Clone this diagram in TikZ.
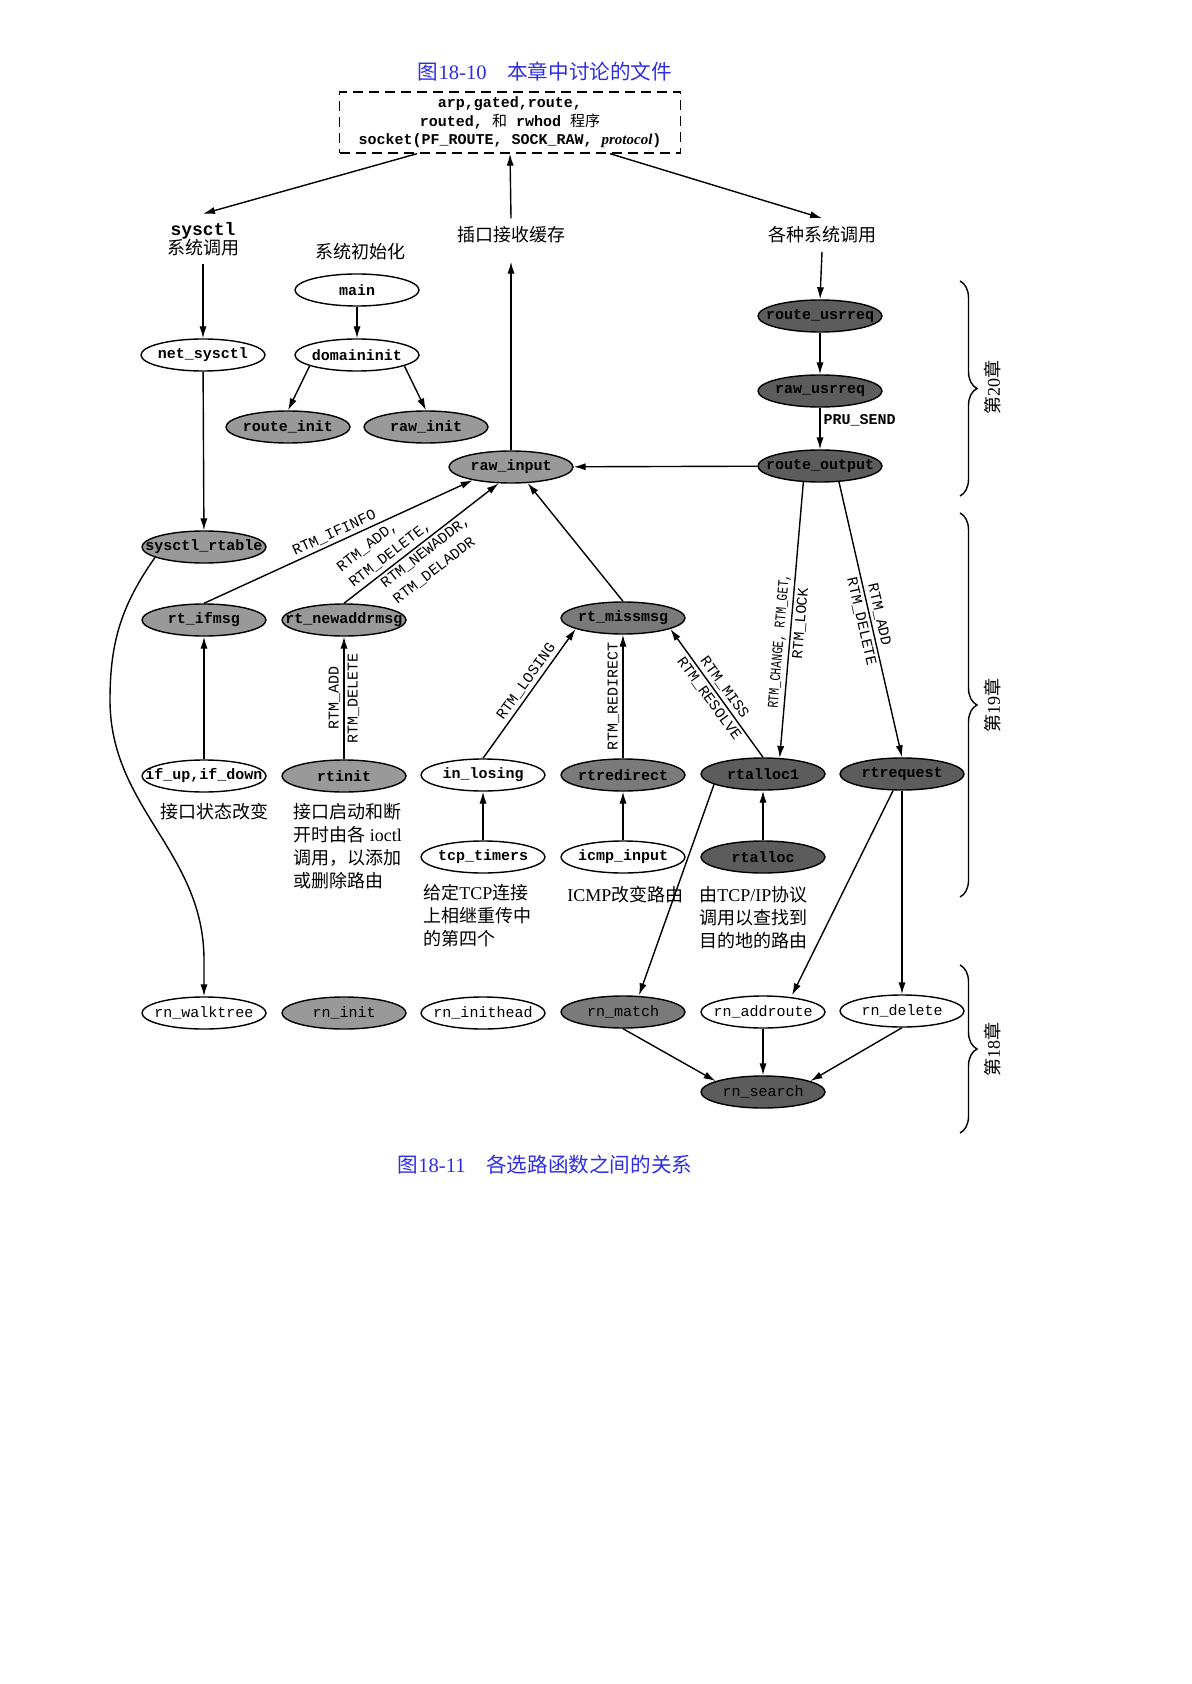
\documentclass[tikz,border=0pt]{standalone}
\usepackage{fontspec}
\setmainfont{Liberation Serif}
\setmonofont{Liberation Mono}
\newfontfamily\zhfont{Noto Sans CJK SC}
\usepackage{tikz}
\usetikzlibrary{shapes, shapes.geometric, arrows.meta, decorations.pathreplacing}
\definecolor{capblue}{RGB}{45,45,225}
\definecolor{lightshade}{gray}{0.6}
\definecolor{midshade}{gray}{0.48}
\definecolor{darkshade}{gray}{0.36}
\tikzstyle{arrow} = [line width=0.7pt,-{Latex[length=6pt,width=3.6pt]}]
\tikzstyle{func} = [ellipse, draw=black, line width=0.7pt, minimum width=62pt, minimum height=16pt, inner sep=0pt, font=\fontsize{7.5}{8}\selectfont\ttfamily\bfseries, execute at begin node={\hbox to 0pt\bgroup\hss}, execute at end node={\hss\egroup}]
\tikzstyle{fnplain} = [func, fill=white]
\tikzstyle{fnlight} = [func, fill=lightshade]
\tikzstyle{fnmid} = [func, fill=midshade]
\tikzstyle{fndark} = [func, fill=darkshade]
\tikzstyle{rnfont} = [font=\fontsize{7.5}{8}\selectfont\ttfamily]
\tikzstyle{progbox} = [rectangle, draw=black, line width=0.7pt, dash pattern=on 5pt off 3pt, minimum width=170.5pt, minimum height=30.5pt, align=center, inner sep=0pt, font=\fontsize{7.5}{9.25}\selectfont\ttfamily\bfseries]
\tikzstyle{lbl} = [inner sep=4pt, font=\fontsize{9}{9.5}\selectfont]
\tikzstyle{desc} = [inner sep=0pt, align=left, anchor=north west, font=\fontsize{9}{11.5}\selectfont]
\tikzstyle{rtm} = [inner sep=1.5pt, font=\fontsize{7.5}{10}\selectfont\ttfamily]
\tikzstyle{figcap} = [text=capblue, font=\fontsize{10.3}{12}\selectfont]
\tikzstyle{chbrace} = [line width=0.7pt, decorate, decoration={brace, amplitude=8.5pt}]

\begin{document}
\begin{tikzpicture}[x=0.5pt, y=0.5pt]
	\useasboundingbox (0,0) rectangle (1191,-1684);
				%captions
				\node(fig10)[figcap] at (545,-72){{\zhfont 图}18-10\hspace{1em}{\zhfont 本章中讨论的文件}};
				\node(fig11)[figcap] at (545,-1165){{\zhfont 图}18-11\hspace{1em}{\zhfont 各选路函数之间的关系}};
				
				\node(prog)[progbox] at (510,-122.5){arp,gated,route,\\routed, {\zhfont\mdseries 和} rwhod {\zhfont\mdseries 程序}\\socket(PF\_ROUTE, SOCK\_RAW, {\rmfamily\bfseries\itshape protocol})};
				
				%text labels
				\node(sysctllbl)[lbl, align=center] at (203,-239){{\ttfamily\bfseries sysctl}\\{\zhfont 系统调用}};
				\node(sysinit)[lbl] at (360,-252){\zhfont 系统初始化};
				\node(sockbuf)[lbl] at (511,-235){\zhfont 插口接收缓存};
				\node(syscalls)[lbl] at (822,-235){\zhfont 各种系统调用};
				
				%chapter 20
				\node(main)[fnplain] at (357,-290){main};
				\node(domaininit)[fnplain] at (357,-355){domaininit};
				\node(net_sysctl)[fnplain] at (203,-355){net\_sysctl};
				\node(route_init)[fnlight] at (288,-427){route\_init};
				\node(raw_init)[fnlight] at (426,-427){raw\_init};
				\node(route_usrreq)[fndark] at (820,-316){route\_usrreq};
				\node(raw_usrreq)[fndark] at (820,-391){raw\_usrreq};
				\node(route_output)[fndark] at (820,-466){route\_output};
				\node(raw_input)[fnlight] at (511,-467){raw\_input};
				
				%chapter 19
				\node(sysctl_rtable)[fnlight] at (204,-547){sysctl\_rtable};
				\node(rt_ifmsg)[fnlight] at (204,-620){rt\_ifmsg};
				\node(rt_newaddrmsg)[fnlight] at (344,-620){rt\_newaddrmsg};
				\node(rt_missmsg)[fnmid] at (623,-618){rt\_missmsg};
				\node(ifupdown)[fnplain] at (204,-776){if\_up,if\_down};
				\node(rtinit)[fnlight] at (344,-776){rtinit};
				\node(in_losing)[fnplain] at (483,-775){in\_losing};
				\node(rtredirect)[fnmid] at (623,-775){rtredirect};
				\node(rtalloc1)[fndark] at (763,-774){rtalloc1};
				\node(rtrequest)[fndark] at (902,-774){rtrequest};
				\node(tcp_timers)[fnplain] at (483,-857){tcp\_timers};
				\node(icmp_input)[fnplain] at (623,-857){icmp\_input};
				\node(rtalloc)[fndark] at (763,-857){rtalloc};
				
				\node(ifdesc)[desc] at (160,-803){\zhfont 接口状态改变};
				\node(rtinitdesc)[desc] at (293,-803){{\zhfont 接口启动和断}\\{\zhfont 开时由各} ioctl\\{\zhfont 调用，以添加}\\{\zhfont 或删除路由}};
				\node(tcpdesc)[desc] at (423,-884){{\zhfont 给定}TCP{\zhfont 连接}\\{\zhfont 上相继重传中}\\{\zhfont 的第四个}};
				\node(icmpdesc)[desc] at (567,-886){ICMP{\zhfont 改变路由}};
				\node(rtallocdesc)[desc] at (699,-886){{\zhfont 由}TCP/IP{\zhfont 协议}\\{\zhfont 调用以查找到}\\{\zhfont 目的地的路由}};
				
				%chapter 18
				\node(rn_walktree)[fnplain, rnfont] at (204,-1013){rn\_walktree};
				\node(rn_init)[fnlight, rnfont] at (344,-1013){rn\_init};
				\node(rn_inithead)[fnplain, rnfont] at (483,-1013){rn\_inithead};
				\node(rn_match)[fnmid, rnfont] at (623,-1012){rn\_match};
				\node(rn_addroute)[fnplain, rnfont] at (763,-1012){rn\_addroute};
				\node(rn_delete)[fnplain, rnfont] at (902,-1011){rn\_delete};
				\node(rn_search)[fndark, rnfont] at (763,-1092){rn\_search};
				
				%braces
				\draw [chbrace] (960,-281) -- (960,-496);
				\draw [chbrace] (960,-513) -- (960,-897);
				\draw [chbrace] (960,-965) -- (960,-1133);
				\node(ch20)[lbl, rotate=90] at (993,-388){{\zhfont 第}20{\zhfont 章}};
				\node(ch19)[lbl, rotate=90] at (993,-705){{\zhfont 第}19{\zhfont 章}};
				\node(ch18)[lbl, rotate=90] at (993,-1049){{\zhfont 第}18{\zhfont 章}};
				
				%arrows
					\draw [arrow, {Latex[length=6pt,width=3.6pt]}-] (sysctllbl.north) -- ([shift={(-93,0)}]prog.south);
					\draw [arrow] (sockbuf.north) -- (prog.south);
					\draw [arrow] ([shift={(100,0)}]prog.south) -- (syscalls.north);
					\draw [arrow] (sysctllbl.south) -- (net_sysctl.north);
					\draw [arrow] (main) -- (domaininit);
					\draw [arrow] (domaininit.193) -- (route_init.north);
					\draw [arrow] (domaininit.347) -- (raw_init.north);
					\draw [arrow] (net_sysctl) -- (sysctl_rtable);
					\draw [arrow, shorten >=5pt] (raw_input.north) -- (sockbuf.south);
					\draw [arrow] (syscalls.south) -- (route_usrreq.north);
					\draw [arrow] (route_usrreq) -- (raw_usrreq);
					\draw [arrow] (raw_usrreq) -- node[rtm, right, pos=0.3, font=\fontsize{7.5}{8}\selectfont\ttfamily\bfseries]{PRU\_SEND} (route_output);
					\draw [arrow] (route_output) -- (raw_input);
					\draw [arrow] (rt_ifmsg.north) -- node[rtm, sloped, above, pos=0.5]{RTM\_IFINFO} (raw_input.199);
					\draw [arrow] (rt_newaddrmsg.north) -- node[rtm, sloped, above, pos=0.34, align=left]{RTM\_ADD,\\RTM\_DELETE,} node[rtm, sloped, below, pos=0.49, align=left]{RTM\_NEWADDR,\\RTM\_DELADDR} (raw_input.233);
					\draw [arrow] (rt_missmsg.north) -- (raw_input.316);
					\draw [arrow] (ifupdown) -- (rt_ifmsg);
					\draw [arrow] (rtinit) -- node[rtm, sloped, above]{RTM\_ADD} node[rtm, sloped, below]{RTM\_DELETE} (rt_newaddrmsg);
					\draw [arrow] (in_losing.north) -- node[rtm, sloped, above, pos=0.55]{RTM\_LOSING} (rt_missmsg.193);
					\draw [arrow] (rtredirect) -- node[rtm, sloped, above]{RTM\_REDIRECT} (rt_missmsg);
					\draw [arrow] (rtalloc1.north) -- node[rtm, sloped, above]{RTM\_MISS} node[rtm, sloped, below]{RTM\_RESOLVE} (rt_missmsg.347);
					\draw [arrow] (route_output.224) -- node[rtm, sloped, above, pos=0.58]{\scalebox{0.75}[1]{RTM\_CHANGE, RTM\_GET,}} node[rtm, sloped, below, pos=0.51]{RTM\_LOCK} (rtalloc1.44);
					\draw [arrow] (route_output.320) -- node[rtm, sloped, above, pos=0.49]{RTM\_ADD} node[rtm, sloped, below, pos=0.5]{RTM\_DELETE} (rtrequest.north);
					\draw [arrow] (tcp_timers) -- (in_losing);
					\draw [arrow] (icmp_input) -- (rtredirect);
					\draw [arrow] (rtalloc) -- (rtalloc1);
					\draw [arrow] (sysctl_rtable.192) to[out=-125, in=90] (110,-700) to[out=-90, in=90] (204,-960) -- (rn_walktree.north);
					\draw [arrow] (rtalloc1.192) -- ([xshift=8pt]rn_match.north);
					\draw [arrow] ([xshift=-4.5pt]rtrequest.south) -- ([xshift=14.5pt]rn_addroute.north);
					\draw [arrow] (rtrequest) -- (rn_delete);
					\draw [arrow] (rn_match.south) -- (rn_search.167);
					\draw [arrow] (rn_addroute) -- (rn_search);
					\draw [arrow] (rn_delete.south) -- (rn_search.13);
\end{tikzpicture}
\end{document}
